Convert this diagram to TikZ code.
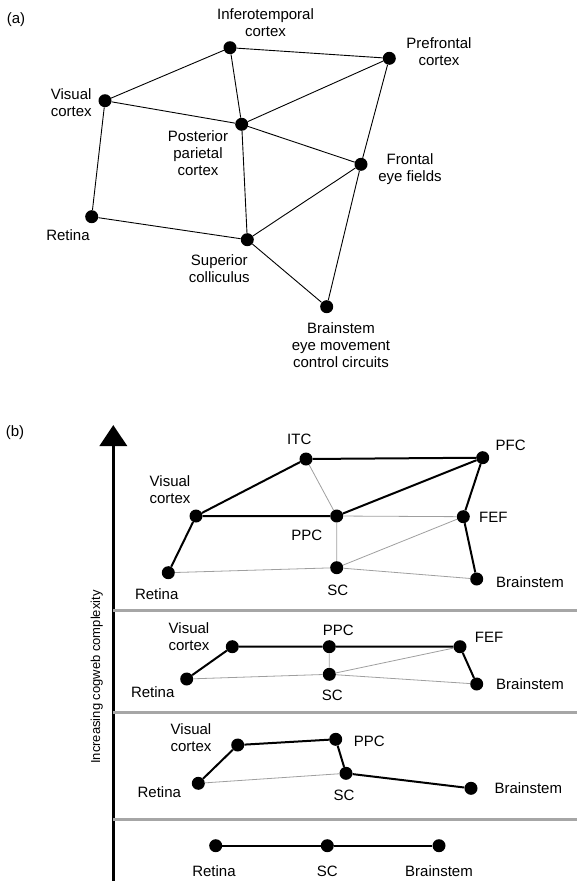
\documentclass[tikz,border=0pt]{standalone}
\usepackage{fontspec}
\setmainfont{Liberation Sans}
\usepackage{tikz}
\usetikzlibrary{arrows.meta, positioning, calc}

\begin{document}
\begin{tikzpicture}[x=1pt, y=-1pt,
    dot/.style={circle, fill=black, inner sep=0pt, minimum size=13pt},
    lbl/.style={font=\fontsize{15}{17}\selectfont, align=center, inner sep=0pt},
    alink/.style={line width=0.9pt},
    strong/.style={line width=2pt},
    weak/.style={line width=0.8pt, gray!75},
    divider/.style={line width=2.7pt, gray!70}]
\useasboundingbox (0,0) rectangle (577,881);

% (a) cortical network
\node[lbl] (alab) at (16,20) {(a)};

\node[dot] (aITC) at (230,47.7) {};
\node[dot] (aPFC) at (389.3,58.3) {};
\node[dot] (aVis) at (105,100.7) {};
\node[dot] (aPPC) at (241.7,124.3) {};
\node[dot] (aFEF) at (361,164.3) {};
\node[dot] (aRet) at (91.7,216.7) {};
\node[dot] (aSC) at (247.3,239.7) {};
\node[dot] (aBS) at (326.7,306.7) {};

\node[lbl] (aITCt) at (265.5,23) {Inferotemporal\\cortex};
\node[lbl] (aPFCt) at (439,52) {Prefrontal\\cortex};
\node[lbl] (aVist) at (71.2,103) {Visual\\cortex};
\node[lbl] (aPPCt) at (198,153.5) {Posterior\\parietal\\cortex};
\node[lbl] (aFEFt) at (410,169) {Frontal\\eye fields};
\node[lbl] (aRett) at (68,235) {Retina};
\node[lbl] (aSCt) at (219.3,269) {Superior\\colliculus};
\node[lbl] (aBSt) at (341,345.5) {Brainstem\\eye movement\\control circuits};

\draw[alink] (aVis) -- (aITC) -- (aPFC);
\draw[alink] (aITC) -- (aPPC) -- (aPFC);
\draw[alink] (aVis) -- (aPPC) -- (aFEF);
\draw[alink] (aPPC) -- (aSC);
\draw[alink] (aVis) -- (aRet) -- (aSC);
\draw[alink] (aPFC) -- (aFEF) -- (aBS);
\draw[alink] (aFEF) -- (aSC) -- (aBS);

% (b) axis and level dividers
\node[lbl] (blab) at (15,433) {(b)};
\coordinate (axbot) at (113.3,881);
\coordinate (axtop) at (113.3,425);
\draw[line width=3.5pt, -{Triangle[width=27pt,length=21pt]}] (axbot) -- (axtop);
\node[rotate=90, font=\fontsize{13}{15}\selectfont, inner sep=0pt] (axlab) at (96.7,677) {Increasing cogweb complexity};

\coordinate (d1l) at (113.3,610.7); \coordinate (d1r) at (577,610.7);
\coordinate (d2l) at (113.3,712.7); \coordinate (d2r) at (577,712.7);
\coordinate (d3l) at (113.3,819.3); \coordinate (d3r) at (577,819.3);
\draw[divider] (d1l) -- (d1r);
\draw[divider] (d2l) -- (d2r);
\draw[divider] (d3l) -- (d3r);

% Level 4
\node[dot] (dITC) at (306,459) {};
\node[dot] (dPFC) at (482.7,457.7) {};
\node[dot] (dVis) at (196,516) {};
\node[dot] (dPPC) at (336.7,516) {};
\node[dot] (dFEF) at (463.3,516.7) {};
\node[dot] (dRet) at (168.3,572.7) {};
\node[dot] (dSC) at (336.7,567.7) {};
\node[dot] (dBS) at (476.7,579) {};

\node[lbl] (dITCt) at (299.3,439.5) {ITC};
\node[lbl] (dPFCt) at (510.7,445) {PFC};
\node[lbl] (dVist) at (170,490) {Visual\\cortex};
\node[lbl] (dPPCt) at (306.7,535) {PPC};
\node[lbl] (dFEFt) at (493.3,517.3) {FEF};
\node[lbl] (dRett) at (156.7,594) {Retina};
\node[lbl] (dSCt) at (337.7,590.7) {SC};
\node[lbl] (dBSt) at (530,581.7) {Brainstem};

\draw[weak] (dITC) -- (dPPC) -- (dFEF);
\draw[weak] (dPPC) -- (dSC) -- (dFEF);
\draw[weak] (dRet) -- (dSC) -- (dBS);
\draw[strong] (dRet) -- (dVis) -- (dITC) -- (dPFC) -- (dFEF) -- (dBS);
\draw[strong] (dVis) -- (dPPC) -- (dPFC);

% Level 3
\node[dot] (cVis) at (232.3,646.7) {};
\node[dot] (cPPC) at (329.3,646.7) {};
\node[dot] (cFEF) at (460,646.7) {};
\node[dot] (cRet) at (186.7,679) {};
\node[dot] (cSC) at (329.3,674.3) {};
\node[dot] (cBS) at (476.7,684) {};

\node[lbl] (cVist) at (189,637) {Visual\\cortex};
\node[lbl] (cPPCt) at (338.3,630) {PPC};
\node[lbl] (cFEFt) at (489,637.3) {FEF};
\node[lbl] (cRett) at (152.7,691.7) {Retina};
\node[lbl] (cSCt) at (332.3,695) {SC};
\node[lbl] (cBSt) at (530,684) {Brainstem};

\draw[weak] (cPPC) -- (cSC) -- (cFEF);
\draw[weak] (cRet) -- (cSC) -- (cBS);
\draw[strong] (cRet) -- (cVis) -- (cPPC) -- (cFEF) -- (cBS);

% Level 2
\node[dot] (bVis) at (237.7,745) {};
\node[dot] (bPPC) at (335.7,739.3) {};
\node[dot] (bSC) at (346,773.3) {};
\node[dot] (bRet) at (198.3,783.3) {};
\node[dot] (bBS) at (471,788.3) {};

\node[lbl] (bVist) at (191,738) {Visual\\cortex};
\node[lbl] (bPPCt) at (369.3,741.7) {PPC};
\node[lbl] (bSCt) at (344,795) {SC};
\node[lbl] (bRett) at (159.3,792.3) {Retina};
\node[lbl] (bBSt) at (528.3,788.3) {Brainstem};

\draw[weak] (bRet) -- (bSC);
\draw[strong] (bRet) -- (bVis) -- (bPPC) -- (bSC) -- (bBS);

% Level 1
\node[dot] (lRet) at (215.7,845.7) {};
\node[dot] (lSC) at (327.3,845.7) {};
\node[dot] (lBS) at (439,845.7) {};

\node[lbl] (lRett) at (214,871) {Retina};
\node[lbl] (lSCt) at (327.3,871) {SC};
\node[lbl] (lBSt) at (439,871) {Brainstem};

\draw[strong] (lRet) -- (lSC) -- (lBS);
\end{tikzpicture}
\end{document}
